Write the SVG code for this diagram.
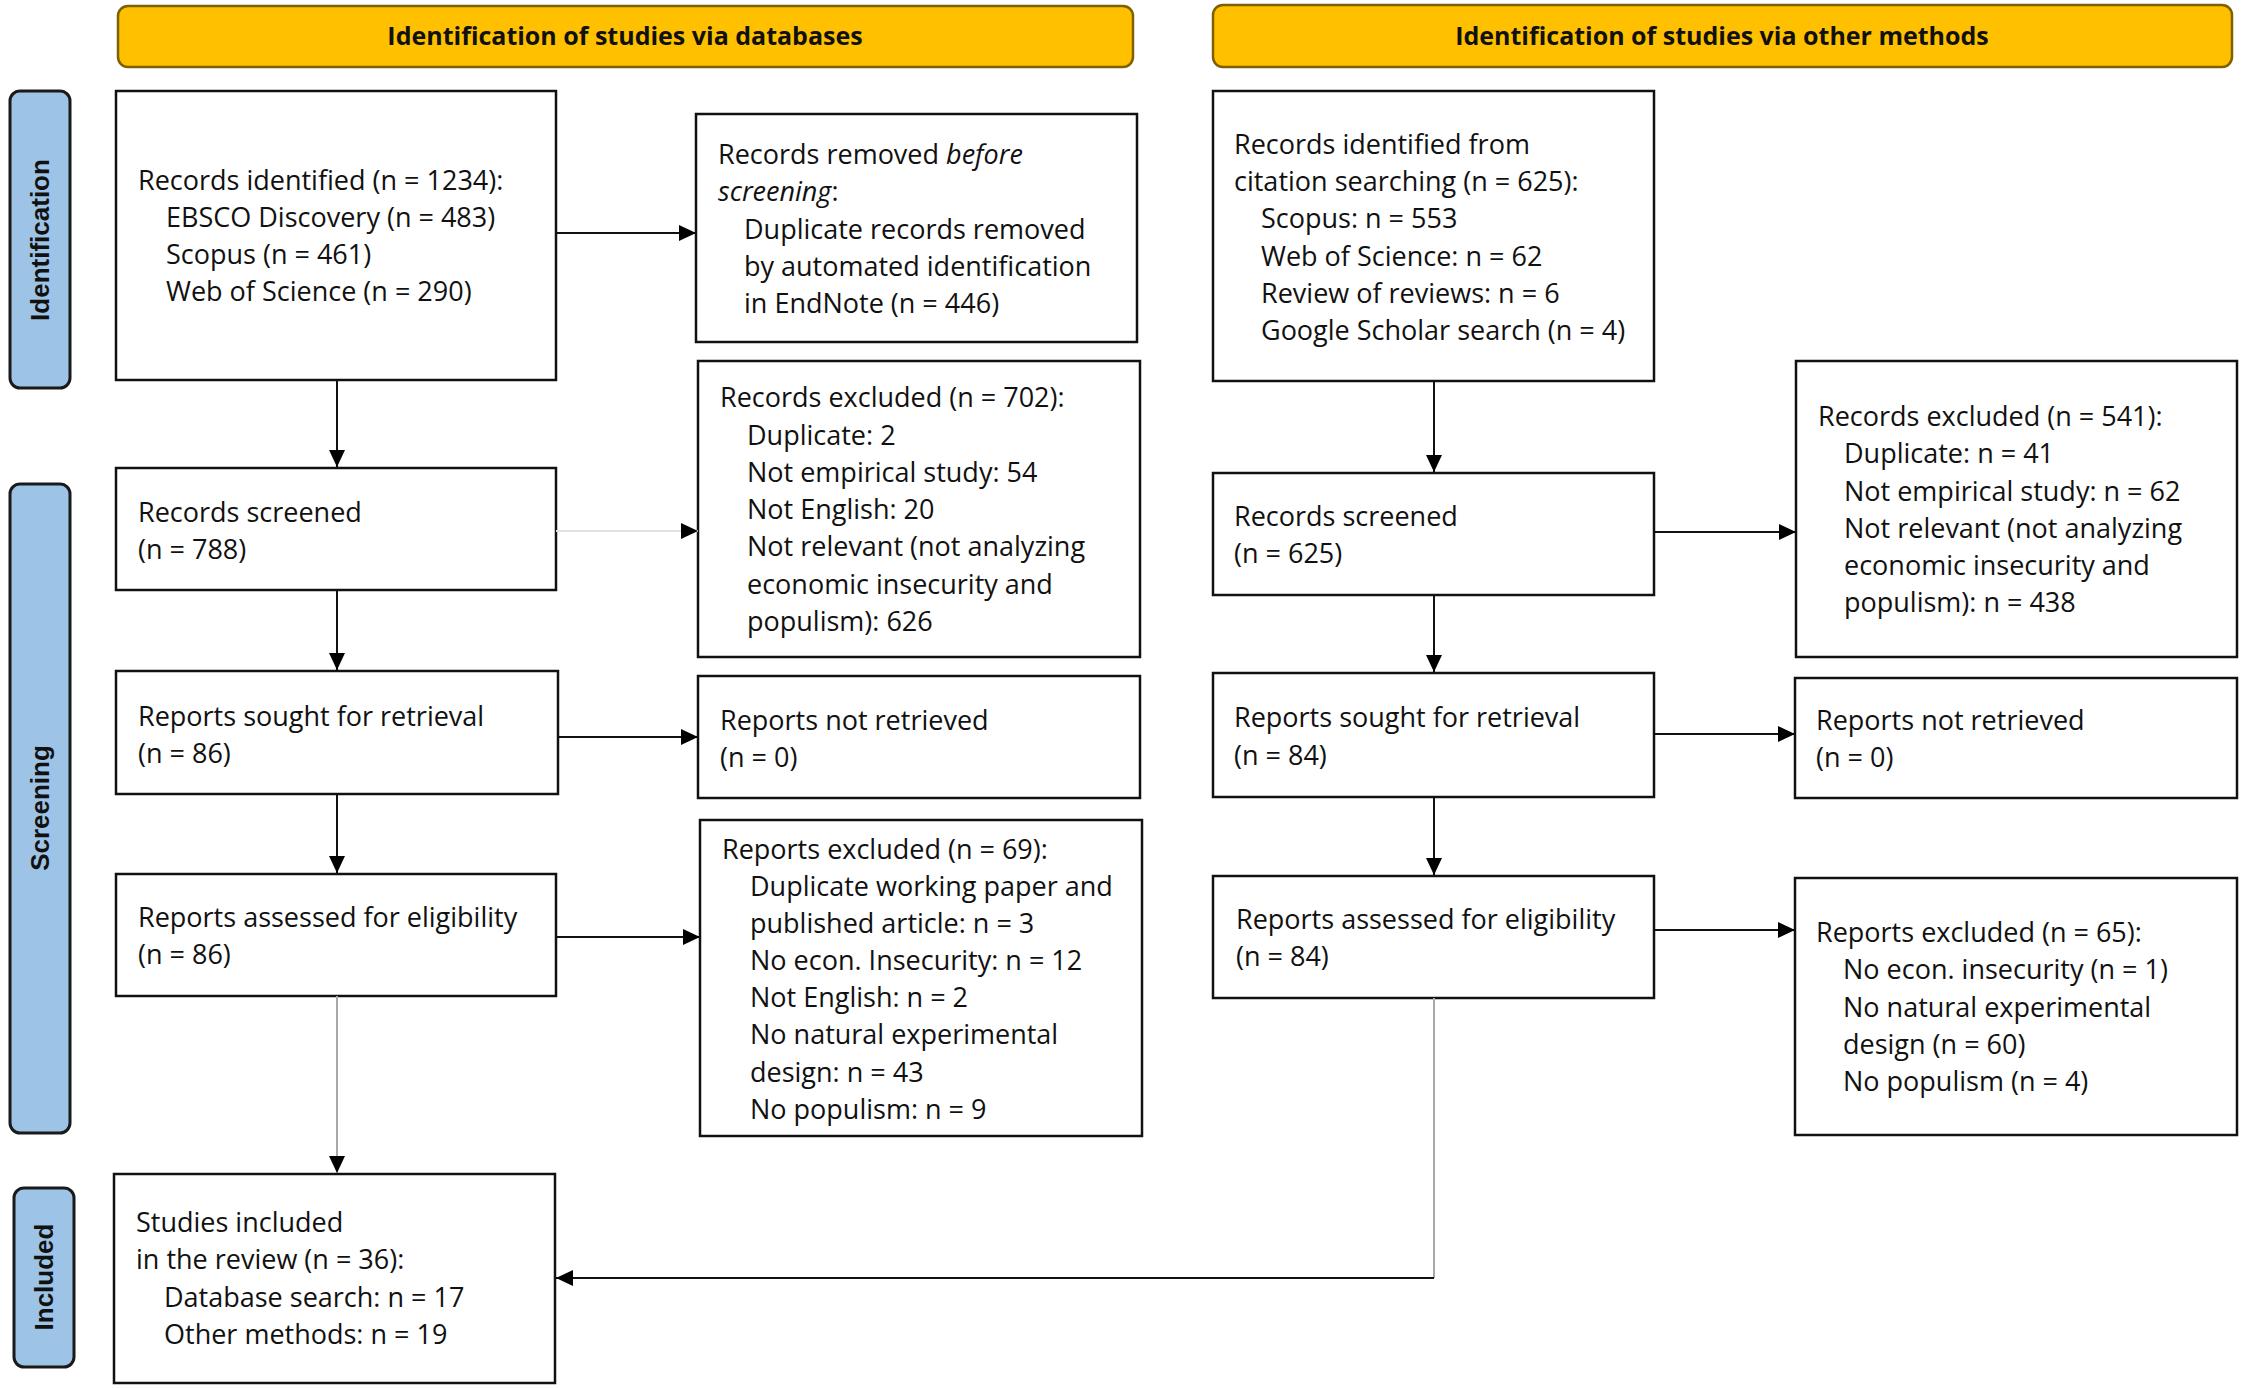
<svg xmlns="http://www.w3.org/2000/svg" width="2250" height="1389" viewBox="0 0 2250 1389">
<style>
.hdr{fill:#FFC000;stroke:#7F6000;stroke-width:2.5}
.hdrt{font-family:"Open Sans","Liberation Sans",sans-serif;font-weight:bold;font-size:25px;fill:#111;text-anchor:middle}
.lbl{fill:#9DC3E6;stroke:#1a1a1a;stroke-width:3}
.lblt{font-family:"Liberation Sans",Arial,sans-serif;font-weight:bold;font-size:26px;fill:#111;text-anchor:middle}
.box{fill:#fff;stroke:#111;stroke-width:2.5}
.t{font-family:"Open Sans","Liberation Sans",sans-serif;font-size:27px;fill:#111}
.c{fill:none;stroke:#111;stroke-width:2}
.cl{fill:none;stroke:#e2e2e2;stroke-width:2}
.cg{fill:none;stroke:#a8a8a8;stroke-width:2}
</style>
<defs>
<marker id="ah" markerUnits="userSpaceOnUse" markerWidth="18" markerHeight="18" refX="17" refY="8" orient="auto">
<path d="M0,0 L17,8 L0,16 z" fill="#000"/>
</marker>
</defs>
<rect width="2250" height="1389" fill="#fff"/>

<g id="header-databases">
<rect class="hdr" x="118" y="6" width="1015" height="61" rx="10"/>
<text class="hdrt" x="625" y="45">Identification of studies via databases</text>
</g>
<g id="header-other">
<rect class="hdr" x="1213" y="5" width="1019" height="62" rx="10"/>
<text class="hdrt" x="1722" y="45">Identification of studies via other methods</text>
</g>

<g id="label-identification">
<rect class="lbl" x="10" y="91" width="60" height="297" rx="10"/>
<text class="lblt" transform="translate(49,240) rotate(-90)">Identification</text>
</g>
<g id="label-screening">
<rect class="lbl" x="10" y="484" width="60" height="649" rx="10"/>
<text class="lblt" transform="translate(49,808) rotate(-90)">Screening</text>
</g>
<g id="label-included">
<rect class="lbl" x="14" y="1188" width="60" height="179" rx="10"/>
<text class="lblt" transform="translate(53,1277) rotate(-90)">Included</text>
</g>

<g id="db-identified">
<rect class="box" x="116" y="91" width="440" height="289"/>
<text class="t"><tspan x="138" y="190">Records identified (n = 1234):</tspan><tspan x="166" y="227">EBSCO Discovery (n = 483)</tspan><tspan x="166" y="264">Scopus (n = 461)</tspan><tspan x="166" y="301">Web of Science (n = 290)</tspan></text>
</g>
<g id="db-removed">
<rect class="box" x="696" y="114" width="441" height="228"/>
<text class="t"><tspan x="718" y="164">Records removed <tspan font-style="italic">before</tspan></tspan><tspan x="718" y="201"><tspan font-style="italic">screening</tspan>:</tspan><tspan x="744" y="239">Duplicate records removed</tspan><tspan x="744" y="276">by automated identification</tspan><tspan x="744" y="313">in EndNote (n = 446)</tspan></text>
</g>
<g id="db-screened">
<rect class="box" x="116" y="468" width="440" height="122"/>
<text class="t"><tspan x="138" y="522">Records screened</tspan><tspan x="138" y="559">(n = 788)</tspan></text>
</g>
<g id="db-excluded">
<rect class="box" x="698" y="361" width="442" height="296"/>
<text class="t"><tspan x="720" y="407">Records excluded (n = 702):</tspan><tspan x="747" y="445">Duplicate: 2</tspan><tspan x="747" y="482">Not empirical study: 54</tspan><tspan x="747" y="519">Not English: 20</tspan><tspan x="747" y="556">Not relevant (not analyzing</tspan><tspan x="747" y="594">economic insecurity and</tspan><tspan x="747" y="631">populism): 626</tspan></text>
</g>
<g id="db-sought">
<rect class="box" x="116" y="671" width="442" height="123"/>
<text class="t"><tspan x="138" y="726">Reports sought for retrieval</tspan><tspan x="138" y="763">(n = 86)</tspan></text>
</g>
<g id="db-not-retrieved">
<rect class="box" x="698" y="676" width="442" height="122"/>
<text class="t"><tspan x="720" y="730">Reports not retrieved</tspan><tspan x="720" y="767">(n = 0)</tspan></text>
</g>
<g id="db-assessed">
<rect class="box" x="116" y="874" width="440" height="122"/>
<text class="t"><tspan x="138" y="927">Reports assessed for eligibility</tspan><tspan x="138" y="964">(n = 86)</tspan></text>
</g>
<g id="db-reports-excluded">
<rect class="box" x="700" y="820" width="442" height="316"/>
<text class="t"><tspan x="722" y="859">Reports excluded (n = 69):</tspan><tspan x="750" y="896">Duplicate working paper and</tspan><tspan x="750" y="933">published article: n = 3</tspan><tspan x="750" y="970">No econ. Insecurity: n = 12</tspan><tspan x="750" y="1007">Not English: n = 2</tspan><tspan x="750" y="1044">No natural experimental</tspan><tspan x="750" y="1082">design: n = 43</tspan><tspan x="750" y="1119">No populism: n = 9</tspan></text>
</g>
<g id="included">
<rect class="box" x="114" y="1174" width="441" height="209"/>
<text class="t"><tspan x="136" y="1232">Studies included</tspan><tspan x="136" y="1269">in the review (n = 36):</tspan><tspan x="164" y="1307">Database search: n = 17</tspan><tspan x="164" y="1344">Other methods: n = 19</tspan></text>
</g>

<g id="om-identified">
<rect class="box" x="1213" y="91" width="441" height="290"/>
<text class="t"><tspan x="1234" y="154">Records identified from</tspan><tspan x="1234" y="191">citation searching (n = 625):</tspan><tspan x="1261" y="228">Scopus: n = 553</tspan><tspan x="1261" y="266">Web of Science: n = 62</tspan><tspan x="1261" y="303">Review of reviews: n = 6</tspan><tspan x="1261" y="340">Google Scholar search (n = 4)</tspan></text>
</g>
<g id="om-screened">
<rect class="box" x="1213" y="473" width="441" height="122"/>
<text class="t"><tspan x="1234" y="526">Records screened</tspan><tspan x="1234" y="563">(n = 625)</tspan></text>
</g>
<g id="om-excluded">
<rect class="box" x="1796" y="361" width="441" height="296"/>
<text class="t"><tspan x="1818" y="426">Records excluded (n = 541):</tspan><tspan x="1844" y="463">Duplicate: n = 41</tspan><tspan x="1844" y="501">Not empirical study: n = 62</tspan><tspan x="1844" y="538">Not relevant (not analyzing</tspan><tspan x="1844" y="575">economic insecurity and</tspan><tspan x="1844" y="612">populism): n = 438</tspan></text>
</g>
<g id="om-sought">
<rect class="box" x="1213" y="673" width="441" height="124"/>
<text class="t"><tspan x="1234" y="727">Reports sought for retrieval</tspan><tspan x="1234" y="765">(n = 84)</tspan></text>
</g>
<g id="om-not-retrieved">
<rect class="box" x="1795" y="678" width="442" height="120"/>
<text class="t"><tspan x="1816" y="730">Reports not retrieved</tspan><tspan x="1816" y="767">(n = 0)</tspan></text>
</g>
<g id="om-assessed">
<rect class="box" x="1213" y="876" width="441" height="122"/>
<text class="t"><tspan x="1236" y="929">Reports assessed for eligibility</tspan><tspan x="1236" y="966">(n = 84)</tspan></text>
</g>
<g id="om-reports-excluded">
<rect class="box" x="1795" y="878" width="442" height="257"/>
<text class="t"><tspan x="1816" y="942">Reports excluded (n = 65):</tspan><tspan x="1843" y="979">No econ. insecurity (n = 1)</tspan><tspan x="1843" y="1017">No natural experimental</tspan><tspan x="1843" y="1054">design (n = 60)</tspan><tspan x="1843" y="1091">No populism (n = 4)</tspan></text>
</g>

<g id="connectors">
<path class="c" d="M556,233 H696" marker-end="url(#ah)"/>
<path class="c" d="M337,380 V467" marker-end="url(#ah)"/>
<path class="cl" d="M556,531 H698" marker-end="url(#ah)"/>
<path class="c" d="M337,590 V670" marker-end="url(#ah)"/>
<path class="c" d="M558,737 H698" marker-end="url(#ah)"/>
<path class="c" d="M337,794 V873" marker-end="url(#ah)"/>
<path class="c" d="M556,937 H700" marker-end="url(#ah)"/>
<path class="cg" d="M337,996 V1173" marker-end="url(#ah)"/>
<path class="c" d="M1434,381 V472" marker-end="url(#ah)"/>
<path class="c" d="M1654,532 H1796" marker-end="url(#ah)"/>
<path class="c" d="M1434,595 V672" marker-end="url(#ah)"/>
<path class="c" d="M1654,734 H1795" marker-end="url(#ah)"/>
<path class="c" d="M1434,797 V875" marker-end="url(#ah)"/>
<path class="c" d="M1654,930 H1795" marker-end="url(#ah)"/>
<path class="cg" d="M1434,998 V1278"/>
<path class="c" d="M1434,1278 H556" stroke="#333" marker-end="url(#ah)"/>
</g>
</svg>
